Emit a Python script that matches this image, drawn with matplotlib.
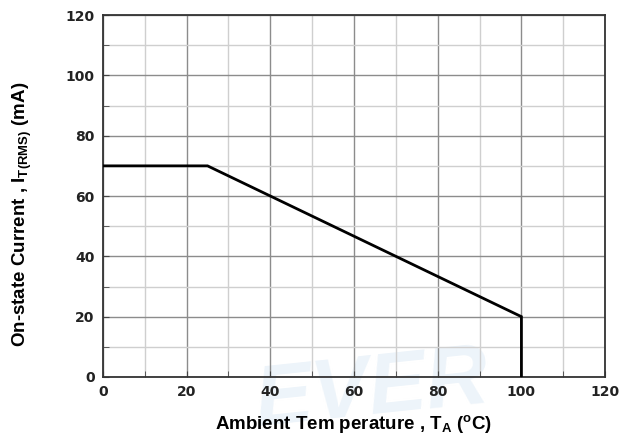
import matplotlib
matplotlib.use('Agg')
import matplotlib.pyplot as plt
from matplotlib.ticker import MultipleLocator

# Derating curve: on-state current vs ambient temperature
temp_c = [0, 25, 100, 100]
current_ma = [70, 70, 20, 0]

x_ticks = [0, 20, 40, 60, 80, 100, 120]
y_ticks = [0, 20, 40, 60, 80, 100, 120]

plt.rcParams['font.family'] = ['Liberation Sans', 'DejaVu Sans']
plt.rcParams['mathtext.fontset'] = 'custom'
plt.rcParams['mathtext.rm'] = 'Liberation Sans:bold'
plt.rcParams['mathtext.it'] = 'Liberation Sans:bold'
plt.rcParams['mathtext.bf'] = 'Liberation Sans:bold'

fig = plt.figure(figsize=(6.2, 4.43), dpi=100)

# faint watermark in the lower band, behind the axes
fig.text(0.60, 0.0, 'EVER', fontsize=62, fontweight='bold', color='#edf4fa',
         ha='center', va='bottom', zorder=0, rotation=6, style='italic')

ax = fig.add_axes([0.166, 0.149, 0.810, 0.817], zorder=1)
ax.patch.set_alpha(0)

ax.plot(temp_c, current_ma, color='black', lw=2.0, zorder=3, solid_joinstyle='miter')

ax.set_xlim(0, 120)
ax.set_ylim(0, 120)
ax.set_xticks(x_ticks)
ax.set_yticks(y_ticks)
ax.xaxis.set_minor_locator(MultipleLocator(10))
ax.yaxis.set_minor_locator(MultipleLocator(10))
ax.grid(which='major', color='#8c8c8c', lw=1.0)
ax.grid(which='minor', color='#cfcfcf', lw=1.0)
ax.set_axisbelow(True)
ax.tick_params(which='both', direction='in', length=4, color='#444444')
ax.tick_params(which='major', labelsize=10, pad=6)
for lab in ax.get_xticklabels() + ax.get_yticklabels():
    lab.set_fontweight('bold')
    lab.set_family('DejaVu Sans')
    lab.set_color('#222222')
for sp in ax.spines.values():
    sp.set_color('#333333')
    sp.set_linewidth(1.3)

ax.set_xlabel(r'Ambient Tem perature , T$_{\rm A}$ ($^{\rm o}$C)',
              fontsize=13.5, fontweight='bold', labelpad=10)
ax.set_ylabel(r'On-state Current , I$_{\rm T(RMS)}$ (mA)',
              fontsize=13.5, fontweight='bold')
ax.yaxis.set_label_coords(-0.138, 0.45)

fig.savefig('out.png', dpi=100)
